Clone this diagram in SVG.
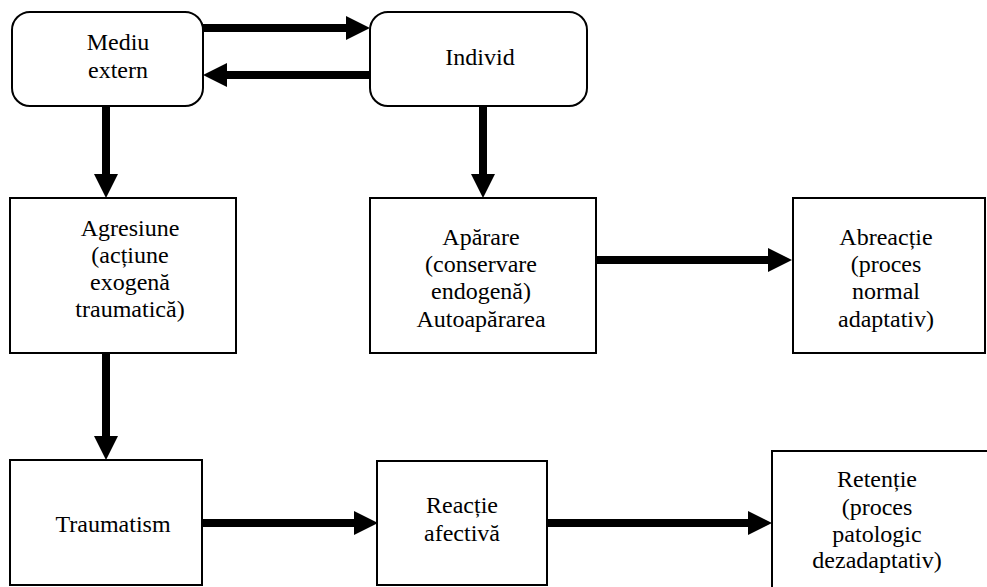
<svg xmlns="http://www.w3.org/2000/svg" width="987" height="587" viewBox="0 0 987 587">
<style>
.box{fill:#fff;stroke:#000;stroke-width:2}
.t{font-family:'Liberation Serif','Times New Roman',serif;font-size:24px;fill:#000;text-anchor:middle}
.c{stroke:#000;stroke-width:8;fill:none;marker-end:url(#ah)}
</style>
<defs>
<marker id="ah" markerUnits="userSpaceOnUse" markerWidth="24" markerHeight="24" refX="12" refY="12" orient="auto">
<path d="M0,0 L24,12 L0,24 z" fill="#000"/>
</marker>
</defs>
<rect width="987" height="587" fill="#fff"/>
<g id="connectors">
<line class="c" x1="203" y1="28" x2="358" y2="28"/>
<line class="c" x1="371" y1="75" x2="215" y2="75"/>
<line class="c" x1="106" y1="106" x2="106" y2="186"/>
<line class="c" x1="483" y1="106" x2="483" y2="186"/>
<line class="c" x1="106" y1="353" x2="106" y2="448"/>
<line class="c" x1="596" y1="260" x2="780" y2="260"/>
<line class="c" x1="202" y1="523" x2="366" y2="523"/>
<line class="c" x1="547" y1="523" x2="760" y2="523"/>
</g>
<g id="mediu">
<rect class="box" x="12" y="12" width="191" height="94" rx="18"/>
<text class="t" x="118" y="50">Mediu</text>
<text class="t" x="118" y="78">extern</text>
</g>
<g id="individ">
<rect class="box" x="370" y="12" width="217" height="94" rx="18"/>
<text class="t" x="480" y="65">Individ</text>
</g>
<g id="agresiune">
<rect class="box" x="10" y="198" width="226" height="155"/>
<text class="t" x="130" y="236">Agresiune</text>
<text class="t" x="130" y="263">(acțiune</text>
<text class="t" x="130" y="290">exogenă</text>
<text class="t" x="130" y="317">traumatică)</text>
</g>
<g id="aparare">
<rect class="box" x="370" y="198" width="226" height="155"/>
<text class="t" x="481" y="245">Apărare</text>
<text class="t" x="481" y="272">(conservare</text>
<text class="t" x="481" y="299">endogenă)</text>
<text class="t" x="481" y="327">Autoapărarea</text>
</g>
<g id="abreactie">
<rect class="box" x="793" y="198" width="192" height="155"/>
<text class="t" x="886" y="245">Abreacție</text>
<text class="t" x="886" y="272">(proces</text>
<text class="t" x="886" y="299">normal</text>
<text class="t" x="886" y="327">adaptativ)</text>
</g>
<g id="traumatism">
<rect class="box" x="10" y="460" width="192" height="125"/>
<text class="t" x="113" y="532">Traumatism</text>
</g>
<g id="reactie">
<rect class="box" x="377" y="461" width="170" height="124"/>
<text class="t" x="462" y="513">Reacție</text>
<text class="t" x="462" y="541">afectivă</text>
</g>
<g id="retentie">
<rect class="box" x="772" y="451" width="230" height="150"/>
<text class="t" x="877" y="487">Retenție</text>
<text class="t" x="877" y="515">(proces</text>
<text class="t" x="877" y="542">patologic</text>
<text class="t" x="877" y="568">dezadaptativ)</text>
</g>
</svg>
